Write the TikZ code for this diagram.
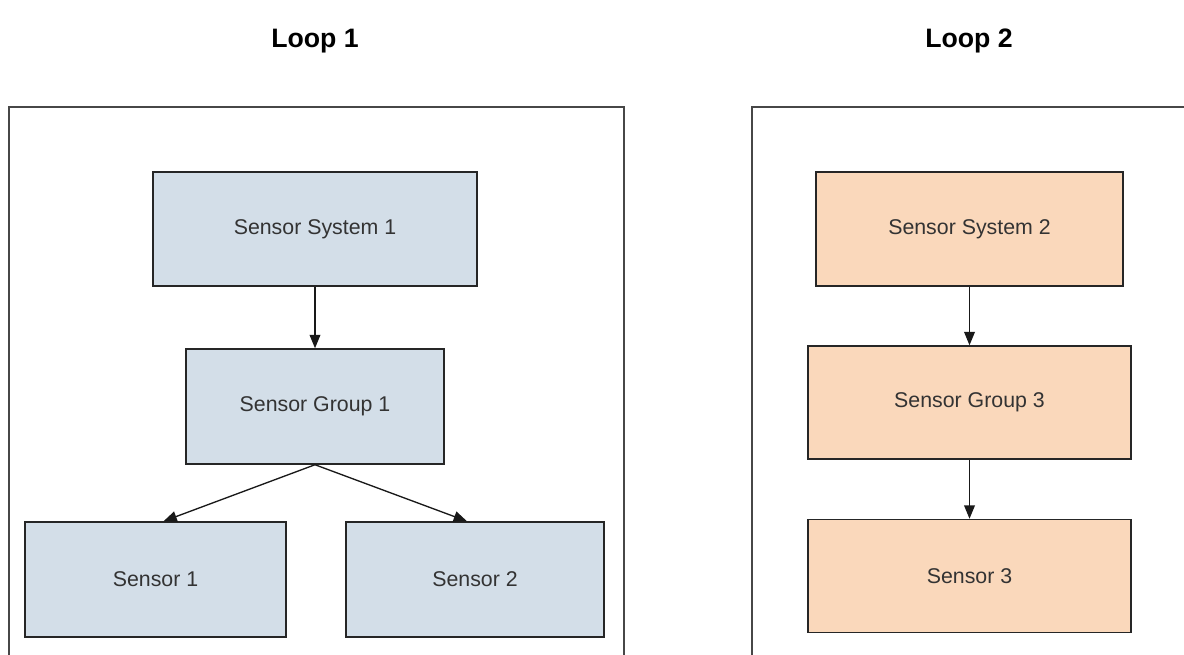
\documentclass[tikz,border=0pt]{standalone}
\usepackage{fontspec}
\setmainfont{Liberation Sans}
\usetikzlibrary{arrows.meta}
\begin{document}
\begin{tikzpicture}[x=0.75pt, y=-0.75pt, font=\fontsize{16}{19}\selectfont,
    blk/.style={draw=black!85, fill=#1, line width=1.1pt, inner sep=0pt, align=center,
      text=black!80},
    frm/.style={draw=black!72, line width=1.4pt, inner sep=0pt, anchor=north west},
    ttl/.style={font=\fontsize{20}{24}\selectfont\bfseries, inner sep=0pt},
    lnk/.style={draw=black!90, line width=1pt, -{Triangle[length=10pt, width=8pt]}}]
  \definecolor{loopblue}{HTML}{D3DEE8}
  \definecolor{looporange}{HTML}{FAD8BB}
  \useasboundingbox (0, 0) rectangle (1184, 655);
  \clip (0, 0) rectangle (1184, 655);
  % ---- titles ----------------------------------------------------------------
  \node[ttl] (t1) at (315, 41) {Loop 1};
  \node[ttl] (t2) at (969, 41) {Loop 2};
  % ---- loop frames (open below / to the right) -------------------------------
  \node[frm, minimum width=615*0.75pt, minimum height=600*0.75pt] (f1) at (8, 106) {};
  \node[frm, minimum width=500*0.75pt, minimum height=600*0.75pt] (f2) at (751, 106) {};
  % ---- loop 1 ----------------------------------------------------------------
  \node[blk=loopblue, minimum width=324*0.75pt, minimum height=114*0.75pt] (sys1) at (315, 229) {Sensor System 1};
  \node[blk=loopblue, minimum width=258*0.75pt, minimum height=115*0.75pt] (grp1) at (315, 406.5) {Sensor Group 1};
  \node[blk=loopblue, minimum width=261*0.75pt, minimum height=115*0.75pt] (sen1) at (155.5, 579.5) {Sensor 1};
  \node[blk=loopblue, minimum width=258*0.75pt, minimum height=115*0.75pt] (sen2) at (475, 579.5) {Sensor 2};
  \draw[lnk] (sys1.south) -- (grp1.north);
  \draw[lnk] (grp1.south) -- ([xshift=6pt]sen1.north);
  \draw[lnk] (grp1.south) -- ([xshift=-6pt]sen2.north);
  % ---- loop 2 ----------------------------------------------------------------
  \node[blk=looporange, minimum width=307*0.75pt, minimum height=114*0.75pt] (sys2) at (969.5, 229) {Sensor System 2};
  \node[blk=looporange, minimum width=323*0.75pt, minimum height=113*0.75pt] (grp3) at (969.5, 402.5) {Sensor Group 3};
  \node[blk=looporange, minimum width=323*0.75pt, minimum height=113*0.75pt] (sen3) at (969.5, 576) {Sensor 3};
  \draw[lnk] (sys2.south) -- (grp3.north);
  \draw[lnk] (grp3.south) -- (sen3.north);
\end{tikzpicture}
\end{document}
